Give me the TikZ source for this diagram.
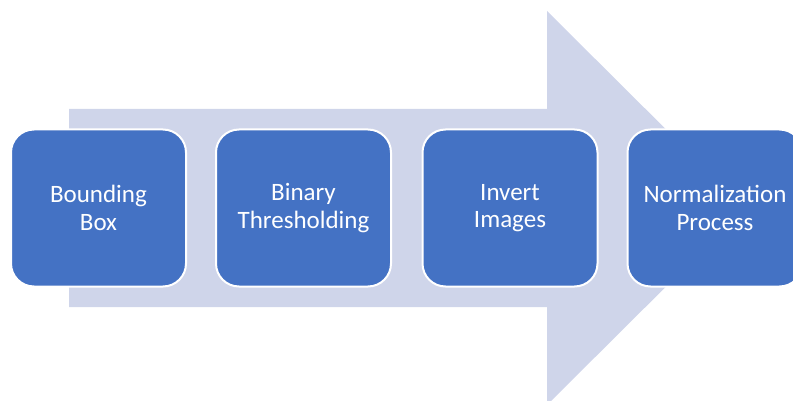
\documentclass[tikz,border=0pt]{standalone}
\usepackage{fontspec}
\setmainfont{Carlito}
\definecolor{stepblue}{HTML}{4472C4}
\definecolor{flowarrow}{HTML}{CFD5EA}
\tikzset{
  stepbox/.style={draw=white, line width=2pt, fill=stepblue, rounded corners=23pt,
    minimum width=175pt, minimum height=157pt, text=white, align=center,
    font=\fontsize{25}{27.5}\selectfont, inner sep=0pt}
}
\begin{document}
\begin{tikzpicture}[x=1pt, y=-1pt]
  \useasboundingbox (0,0) rectangle (793,401);
  % broad background arrow
  \fill[flowarrow] (69,109) -- (547,109) -- (547,11) -- (745,208)
    -- (547,405) -- (547,307) -- (69,307) -- cycle;
  % process steps
  \node[stepbox] (b1) at (98.5,208) {Bounding\\Box};
  \node[stepbox] (b2) at (303.5,208) {Binary\\Thresholding};
  \node[stepbox] (b3) at (510,208) {Invert\\Images};
  \node[stepbox] (b4) at (715,208) {Normalization\\Process};
\end{tikzpicture}
\end{document}
